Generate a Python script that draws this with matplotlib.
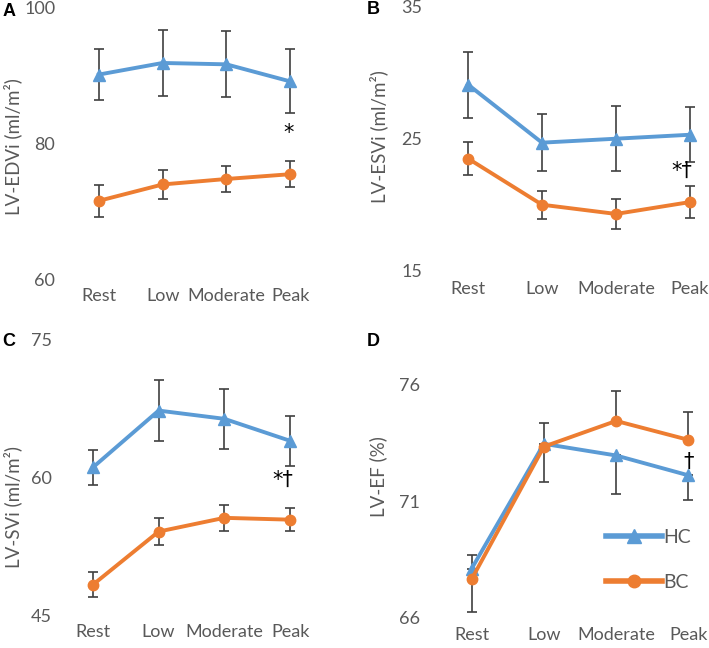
import matplotlib
matplotlib.use("Agg")
import matplotlib.pyplot as plt
from matplotlib.lines import Line2D

plt.rcParams['font.family'] = ['Lato', 'DejaVu Sans']

stages = ["Rest", "Low", "Moderate", "Peak"]

# panel A: LV-EDVi
edv_hc = [90.1, 91.8, 91.6, 89.1]
edv_hc_err = [3.7, 4.8, 4.85, 4.7]
edv_bc = [71.6, 74.0, 74.8, 75.5]
edv_bc_err = [2.3, 2.1, 1.85, 1.9]

# panel B: LV-ESVi
esv_hc = [29.1, 24.7, 25.0, 25.3]
esv_hc_err = [2.5, 2.15, 2.45, 2.1]
esv_bc = [23.5, 20.0, 19.3, 20.2]
esv_bc_err = [1.25, 1.07, 1.15, 1.2]

# panel C: LV-SVi
sv_hc = [61.1, 67.3, 66.4, 64.0]
sv_hc_err = [1.95, 3.35, 3.3, 2.75]
sv_bc = [48.3, 54.1, 55.6, 55.4]
sv_bc_err = [1.35, 1.45, 1.4, 1.25]

# panel D: LV-EF (only the outer half of each bar is visible)
ef_hc = [68.1, 73.45, 72.95, 72.1]
ef_hc_lo = [0, 0, 1.67, 1.06]
ef_hc_hi = [0.6, 0.88, 0, 0]
ef_bc = [67.65, 73.33, 74.43, 73.62]
ef_bc_lo = [1.4, 1.5, 0, 0]
ef_bc_hi = [0, 0, 1.29, 1.21]

groups = ["HC", "BC"]

BLUE = "#5B9BD5"
ORANGE = "#ED7D31"
GREY = "#595959"
ERR = "#404040"

W, H = 709, 648
fig = plt.figure(figsize=(W / 100, H / 100), dpi=100)


def px_axes(left, right, top, bottom):
    return fig.add_axes([left / W, 1 - bottom / H, (right - left) / W, (bottom - top) / H])


def panel(ax, hc, hc_err, bc, bc_err, ylim, yticks, ypad, xpad):
    x = range(len(stages))
    ax.errorbar(x, hc, yerr=hc_err, color=BLUE, lw=2.8, marker="^", ms=8,
                ecolor=ERR, elinewidth=1.2, capsize=3.5, capthick=1.2, zorder=3)
    ax.errorbar(x, bc, yerr=bc_err, color=ORANGE, lw=2.8, marker="o", ms=7.5,
                ecolor=ERR, elinewidth=1.2, capsize=3.5, capthick=1.2, zorder=3)
    ax.set_xlim(-0.5, 3.5)
    ax.set_ylim(*ylim)
    ax.set_yticks(yticks)
    ax.set_xticks(list(x))
    ax.set_xticklabels(stages)
    for s in ax.spines.values():
        s.set_visible(False)
    ax.tick_params(axis="both", length=0, labelsize=13, labelcolor=GREY)
    ax.tick_params(axis="y", pad=ypad)
    ax.tick_params(axis="x", pad=xpad)
    ax.patch.set_alpha(0)


axA = px_axes(67, 322, 7, 280)
panel(axA, edv_hc, edv_hc_err, edv_bc, edv_bc_err, (60, 100), [60, 80, 100], 8.5, 6)
axB = px_axes(431, 727, 6.7, 270.7)
panel(axB, esv_hc, esv_hc_err, esv_bc, esv_bc_err, (15, 35), [15, 25, 35], 6.5, 7.5)
axC = px_axes(60, 323, 340, 615)
panel(axC, sv_hc, sv_hc_err, sv_bc, sv_bc_err, (45, 75), [45, 60, 75], 5.8, 6.5)
axD = px_axes(435.5, 724.5, 384.3, 617.7)
panel(axD, ef_hc, [ef_hc_lo, ef_hc_hi], ef_bc, [ef_bc_lo, ef_bc_hi], (66, 76), [66, 71, 76], 11, 6.5)

# y labels
def ylab(x, y, s):
    fig.text(x / W, 1 - y / H, s, rotation=90, ha="center", va="center",
             fontsize=13.5, color=GREY)

ylab(13, 147, "LV-EDVi (ml/m²)")
ylab(379, 137, "LV-ESVi (ml/m²)")
ylab(13, 507, "LV-SVi (ml/m²)")
ylab(378, 477, "LV-EF (%)")

# panel letters
for lx, ly, s in [(9, 12, "A"), (373, 10, "B"), (9, 341, "C"), (373, 341, "D")]:
    fig.text(lx / W, 1 - ly / H, s, ha="center", va="center", fontsize=13,
             fontweight="bold", family="Liberation Sans", color="black")

# significance marks
mark = dict(ha="center", va="center", fontsize=15, color="black",
            family="DejaVu Sans", textcoords="offset points")
axA.annotate("*", xy=(3, edv_hc[3] - edv_hc_err[3]), xytext=(-1, -14), **mark)
axB.annotate("*\u2020", xy=(3, esv_hc[3] - esv_hc_err[3]), xytext=(-6, -6), **mark)
axC.annotate("*\u2020", xy=(3, sv_hc[3] - sv_hc_err[3]), xytext=(-5, -10), **mark)
axD.annotate("\u2020", xy=(3, ef_bc[3]), xytext=(0, -16), **mark)

# legend
handles = [Line2D([], [], color=BLUE, lw=4, marker="^", ms=10),
           Line2D([], [], color=ORANGE, lw=4, marker="o", ms=9)]
fig.legend(handles, groups, loc="center left", bbox_to_anchor=(588 / W, 1 - 560 / H),
           frameon=False, fontsize=14, handlelength=2.9, labelspacing=1.45,
           handletextpad=0.05, labelcolor=GREY)

fig.savefig("out.png", dpi=100)
